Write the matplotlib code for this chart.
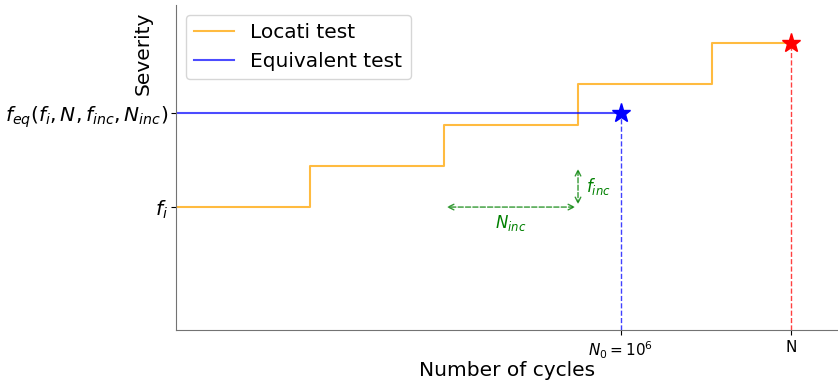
import matplotlib
matplotlib.use("Agg")
from matplotlib import pyplot as plt

# step boundaries (in units of N_inc) and levels (in units of f_inc)
step_x = [0, 1, 2, 3, 4, 4.59]
step_y = [3, 4, 5, 6, 7, 7]
f_i = 3
f_eq = 5.3
N0 = 3.32
N_end = 4.59

fig = plt.figure(figsize=(8.38, 3.82), dpi=100)
ax = fig.add_axes([0.21, 0.136, 0.79, 0.851])

ax.step(step_x, step_y, where='post', color='orange', alpha=0.75, label='Locati test')
ax.plot([0, N0], [f_eq, f_eq], color='blue', alpha=0.7, label='Equivalent test')
ax.plot(N0, f_eq, marker='*', color='blue', markersize=14)
ax.plot(N_end, step_y[-1], marker='*', color='red', markersize=14)
ax.plot([N0, N0], [0, f_eq], color='blue', linestyle='--', linewidth=1, alpha=0.75)
ax.plot([N_end, N_end], [0, step_y[-1]], color='red', linestyle='--', linewidth=1, alpha=0.75)

# increment arrows
ax.annotate('', xy=(step_x[2], f_i), xytext=(step_x[3], f_i),
            arrowprops=dict(arrowstyle='<->', color='green', linestyle='--', alpha=0.8))
ax.annotate('', xy=(step_x[3], f_i), xytext=(step_x[3], f_i + 1),
            arrowprops=dict(arrowstyle='<->', color='green', linestyle='--', alpha=0.8))
ax.text(3.06, 3.5, r'$f_{inc}$', color='green', fontsize=12, va='center')
ax.text(2.5, 2.6, r'$N_{inc}$', color='green', fontsize=12, ha='center', va='center')

ax.set_xlim(0, 4.94)
ax.set_ylim(0, 7.93)
ax.set_xticks([N0, N_end])
ax.set_xticklabels([r'$N_0 = 10^6$', 'N'], fontsize=11)
ax.set_yticks([f_i, f_eq])
ax.set_yticklabels([r'$f_i$', r'$f_{eq}(f_i, N, f_{inc}, N_{inc})$'], fontsize=14.5)
ax.tick_params(axis='y', pad=2)
ax.set_xlabel('Number of cycles', fontsize=14.5, labelpad=0)
ax.set_ylabel('Severity', fontsize=14.5, loc='top')
ax.yaxis.set_label_coords(-0.036, 0.98)
for side in ['left', 'bottom']:
    ax.spines[side].set_color('0.45')
ax.spines['top'].set_visible(False)
ax.spines['right'].set_visible(False)
ax.legend(loc='upper left', fontsize=14.5)

plt.savefig('out.png', dpi=100)
